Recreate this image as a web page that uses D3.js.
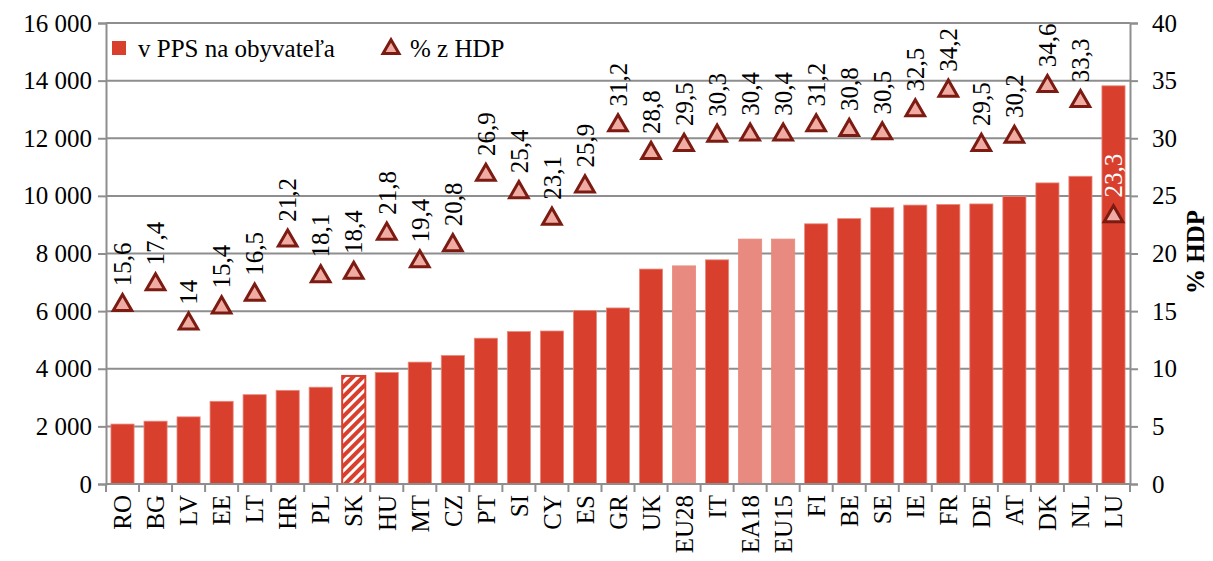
<!DOCTYPE html>
<html>
<head>
<meta charset="utf-8">
<script src="https://cdn.jsdelivr.net/npm/d3@7"></script>
<style>
  body { margin: 0; background: #fff; }
</style>
</head>
<body>
<div id="chart"></div>
<script>
//Datos
const categories = ['RO','BG','LV','EE','LT','HR','PL','SK','HU','MT','CZ','PT','SI','CY','ES','GR','UK','EU28','IT','EA18','EU15','FI','BE','SE','IE','FR','DE','AT','DK','NL','LU'];
const ppsValues = [2080,2180,2330,2870,3100,3250,3360,3750,3870,4230,4460,5060,5290,5310,6020,6110,7460,7570,7780,8500,8500,9030,9210,9590,9680,9700,9720,9980,10450,10680,13820];
const hdpValues = [15.6,17.4,14,15.4,16.5,21.2,18.1,18.4,21.8,19.4,20.8,26.9,25.4,23.1,25.9,31.2,28.8,29.5,30.3,30.4,30.4,31.2,30.8,30.5,32.5,34.2,29.5,30.2,34.6,33.3,23.3];
const aggregates = ['EU28','EA18','EU15'];
const highlighted = ['SK'];
const leftTicks = [0,2000,4000,6000,8000,10000,12000,14000,16000];
const rightTicks = [0,5,10,15,20,25,30,35,40];
const legendLabels = ['v PPS na obyvateľa', '% z HDP'];
const rightTitle = '% HDP';

//Colores
const COLOR_BAR = '#D83F2D',
COLOR_BAR_LIGHT = '#E98A80',
COLOR_TRI_FILL = '#F0ABA3',
COLOR_TRI_STROKE = '#7B1B12',
COLOR_GRID = '#8E8E8E';
const FONT = '"Liberation Serif", "Times New Roman", serif';

let W = 1213, H = 561;
let margin = {top: 23, right: 83, bottom: 77, left: 106},
    width = W - margin.left - margin.right,
    height = H - margin.top - margin.bottom;

let svg = d3.select('#chart').append('svg')
    .attr('width', W).attr('height', H)
    .attr('font-family', FONT);

let defs = svg.append('defs');
let pat = defs.append('pattern')
    .attr('id', 'hatch')
    .attr('patternUnits', 'userSpaceOnUse')
    .attr('width', 7).attr('height', 7)
    .attr('patternTransform', 'rotate(45)');
pat.append('rect').attr('width', 7).attr('height', 7).attr('fill', COLOR_BAR);
pat.append('rect').attr('x', 0).attr('width', 3).attr('height', 7).attr('fill', '#fff');

let g = svg.append('g').attr('transform', 'translate(' + margin.left + ',' + margin.top + ')');

let x = d3.scaleBand().domain(categories).range([0, width]).paddingInner(0.3).paddingOuter(0.15);
let y = d3.scaleLinear().domain([0, 16000]).range([height, 0]);
let y2 = d3.scaleLinear().domain([0, 40]).range([height, 0]);

let fmt = function(d) { return d3.format(',')(d).replace(/,/g, ' '); };

//Rejilla
g.append('g').selectAll('line').data(leftTicks.filter(d => d > 0)).enter().append('line')
    .attr('x1', 0).attr('x2', width)
    .attr('y1', d => y(d)).attr('y2', d => y(d))
    .attr('stroke', COLOR_GRID).attr('stroke-width', 2);

//Ejes
let yAxisL = g.append('g').call(d3.axisLeft(y).tickValues(leftTicks).tickSize(8).tickPadding(6).tickFormat(fmt));
let yAxisR = g.append('g').attr('transform', 'translate(' + width + ',0)')
    .call(d3.axisRight(y2).tickValues(rightTicks).tickSize(8).tickPadding(14));
[yAxisL, yAxisR].forEach(function(a) {
    a.attr('font-family', FONT);
    a.select('.domain').attr('stroke', COLOR_GRID).attr('stroke-width', 2);
    a.selectAll('.tick line').attr('stroke', COLOR_GRID).attr('stroke-width', 2);
    a.selectAll('.tick text').style('font-family', FONT).style('font-size', '25px').attr('fill', '#000');
});

//Barras
g.append('g').selectAll('rect').data(categories).enter().append('rect')
    .attr('x', d => x(d))
    .attr('y', (d,i) => y(ppsValues[i]))
    .attr('width', x.bandwidth())
    .attr('height', (d,i) => height - y(ppsValues[i]))
    .attr('fill', function(d) {
        if (highlighted.indexOf(d) > -1) return 'url(#hatch)';
        return aggregates.indexOf(d) > -1 ? COLOR_BAR_LIGHT : COLOR_BAR;
    })
    .attr('stroke', d => highlighted.indexOf(d) > -1 ? COLOR_BAR : '#E9897C')
    .attr('stroke-width', d => highlighted.indexOf(d) > -1 ? 2 : 0.8);

//Eje X
g.append('line').attr('x1', 0).attr('x2', width).attr('y1', height).attr('y2', height)
    .attr('stroke', COLOR_GRID).attr('stroke-width', 2);
let step = x.step();
let bounds = d3.range(categories.length + 1).map(i => i === 0 ? 0 : (i === categories.length ? width : x(categories[i - 1]) + x.bandwidth() + step * x.paddingInner() / 2));
g.append('g').selectAll('line').data(bounds).enter().append('line')
    .attr('x1', d => d).attr('x2', d => d)
    .attr('y1', height).attr('y2', height + 8)
    .attr('stroke', COLOR_GRID).attr('stroke-width', 2);
g.append('g').selectAll('text').data(categories).enter().append('text')
    .attr('transform', d => 'translate(' + (x(d) + x.bandwidth() / 2) + ',' + (height + 11) + ') rotate(-90)')
    .attr('text-anchor', 'end')
    .attr('dy', '0.35em')
    .style('font-family', FONT)
    .style('font-size', '25px')
    .text(d => d);

//Triángulos
let tri = d3.symbol().type(d3.symbolTriangle).size(150);
let pts = g.append('g').selectAll('g').data(categories).enter().append('g')
    .attr('transform', (d,i) => 'translate(' + (x(d) + x.bandwidth() / 2) + ',' + y2(hdpValues[i]) + ')');
pts.append('path')
    .attr('d', tri)
    .attr('transform', 'translate(0,1)')
    .attr('fill', COLOR_TRI_FILL)
    .attr('stroke', COLOR_TRI_STROKE)
    .attr('stroke-width', 3)
    .attr('stroke-linejoin', 'miter');
pts.append('text')
    .attr('transform', 'translate(0,-18) rotate(-90)')
    .attr('text-anchor', 'start')
    .attr('dy', '0.35em')
    .style('font-family', FONT)
    .style('font-size', '25px')
    .style('fill', (d,i) => y(ppsValues[i]) < y2(hdpValues[i]) - 18 ? '#fff' : '#000')
    .text((d,i) => String(hdpValues[i]).replace('.', ','));

//Título eje derecho
svg.append('text')
    .attr('transform', 'translate(1195,252) rotate(-90)')
    .attr('text-anchor', 'middle')
    .attr('dy', '0.35em')
    .style('font-family', FONT)
    .style('font-size', '25px')
    .style('font-weight', 'bold')
    .text(rightTitle);

//Leyenda
let legend = svg.append('g');
legend.append('rect').attr('x', 112).attr('y', 41).attr('width', 14).attr('height', 14).attr('fill', COLOR_BAR);
legend.append('text').attr('x', 138).attr('y', 57).style('font-family', FONT).style('font-size', '25px').text(legendLabels[0]);
legend.append('path').attr('d', d3.symbol().type(d3.symbolTriangle).size(110))
    .attr('transform', 'translate(391,49)')
    .attr('fill', COLOR_TRI_FILL).attr('stroke', COLOR_TRI_STROKE).attr('stroke-width', 3);
legend.append('text').attr('x', 410).attr('y', 57).style('font-family', FONT).style('font-size', '25px').text(legendLabels[1]);
</script>
</body>
</html>
